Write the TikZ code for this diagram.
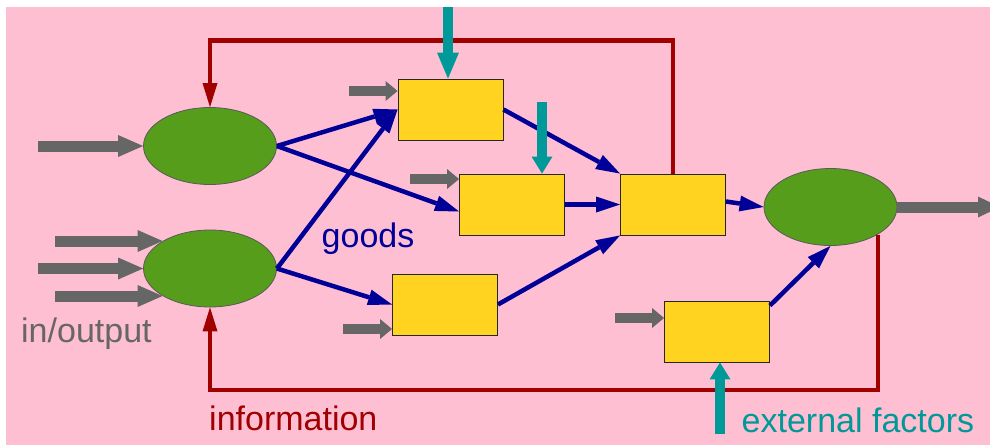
\documentclass[tikz,border=0pt]{standalone}
\usepackage{fontspec}
\setmainfont{Liberation Sans}
\usetikzlibrary{arrows.meta,shapes.geometric,calc}

\definecolor{bgpink}{HTML}{FFBFD2}
\definecolor{infored}{HTML}{A00000}
\definecolor{flowblue}{HTML}{000099}
\definecolor{factorteal}{HTML}{009999}
\definecolor{iogray}{HTML}{666666}
\definecolor{nodegreen}{HTML}{579D1C}
\definecolor{boxyellow}{HTML}{FFD320}

\begin{document}
\begin{tikzpicture}[x=1pt,y=-1pt,
  agent/.style={ellipse,draw=black!65,line width=0.8pt,fill=nodegreen,
    minimum width=133pt,minimum height=77pt,inner sep=0pt},
  proc/.style={rectangle,draw=black!85,line width=0.9pt,fill=boxyellow,
    minimum width=105pt,minimum height=61pt,inner sep=0pt},
  goodsflow/.style={draw=flowblue,line width=4.5pt,
    -{Triangle[length=24pt,width=16pt,line width=0pt]}},
  infoflow/.style={draw=infored,line width=4.5pt,
    -{Triangle[length=24pt,width=15pt,line width=0pt]}},
  iolong/.style={draw=iogray,line width=11pt,
    -{Triangle[length=25pt,width=22pt,line width=0pt]}},
  ioshort/.style={draw=iogray,line width=10pt,
    -{Triangle[length=12pt,width=20pt,line width=0pt]}},
  factorlong/.style={draw=factorteal,line width=10pt,
    -{Triangle[length=26pt,width=22pt,line width=0pt]}},
  factor/.style={draw=factorteal,line width=10pt,
    -{Triangle[length=17pt,width=21pt,line width=0pt]}},
  lbltext/.style={font=\fontsize{34}{40}\selectfont,inner sep=0pt,anchor=base west}
]
% canvas
\useasboundingbox (0,0) rectangle (990,445);
\clip (0,0) rectangle (990,445);
\fill[white] (0,0) rectangle (990,445);
\fill[bgpink] (6,7) rectangle (990,445);

% actors (ellipses) and processes (boxes)
\node[agent] (E1) at (210,146) {};
\node[agent] (E2) at (210,268.5) {};
\node[agent] (E3) at (830.5,207) {};

\node[proc] (B1) at (450.5,109.5) {};
\node[proc] (B2) at (512,204.5) {};
\node[proc] (B3) at (445,304.5) {};
\node[proc] (B4) at (673,204.5) {};
\node[proc] (B5) at (717,331.5) {};

% information feedback loops
\coordinate (topline) at (0,40.5);
\coordinate (botline) at (0,390);
\draw[infoflow] (B4.north) -- (B4.north |- topline) -| (E1.north);
\draw[infoflow] (E3.south east) -- (E3.south east |- botline) -| (E2.south);

% flows of goods
\draw[goodsflow] (E1.east) -- (B1.west);
\draw[goodsflow] (E1.east) -- ($(B2.west)+(0,7)$);
\draw[goodsflow] (E2.east) -- (B1.west);
\draw[goodsflow] (E2.east) -- (B3.west);
\draw[goodsflow] (B1.east) -- (B4.north west);
\draw[goodsflow] (B2.east) -- (B4.west);
\draw[goodsflow] (B3.east) -- (B4.south west);
\draw[goodsflow] ($(B4.east)+(0,-3)$) -- (E3.west);
\draw[goodsflow] ($(B5.north east)+(0,5)$) -- (E3.south);

% inputs and outputs
\coordinate (g1) at (38,146);
\coordinate (g2) at (55,241);
\coordinate (g3) at (38,268.5);
\coordinate (g4) at (55,296);
\coordinate (g5) at (349,91);
\coordinate (g6) at (410,179);
\coordinate (g7) at (343,329);
\coordinate (g8) at (615,318);
\coordinate (g9) at (1000,207);
\draw[iolong] (g1) -- (E1.west);
\draw[iolong] (g2) -- (g2 -| E2.150);
\draw[iolong] (g3) -- (E2.west);
\draw[iolong] (g4) -- (g4 -| E2.210);
\draw[ioshort] (g5) -- (g5 -| B1.west);
\draw[ioshort] (g6) -- (g6 -| B2.west);
\draw[ioshort] (g7) -- (g7 -| B3.west);
\draw[ioshort] (g8) -- (g8 -| B5.west);
\draw[draw=iogray,line width=11pt,-{Triangle[length=22pt,width=21pt,line width=0pt]}]
  (E3.east) -- (g9);

% external factors
\coordinate (t1) at (448,7);
\coordinate (t2) at (542,102);
\coordinate (t3) at (720,434);
\draw[factorlong] (t1) -- (t1 |- B1.north);
\draw[factor] (t2) -- (t2 |- B2.north);
\draw[factor] (t3) -- (t3 |- B5.south);

% labels
\node[lbltext,text=flowblue] (goodslbl) at (321.5,247) {goods};
\node[lbltext,text=iogray] (iolbl) at (21,342) {in/output};
\node[lbltext,text=infored] (infolbl) at (209,430) {information};
\node[lbltext,text=factorteal] (factlbl) at (741.5,432) {external factors};
\end{tikzpicture}
\end{document}
